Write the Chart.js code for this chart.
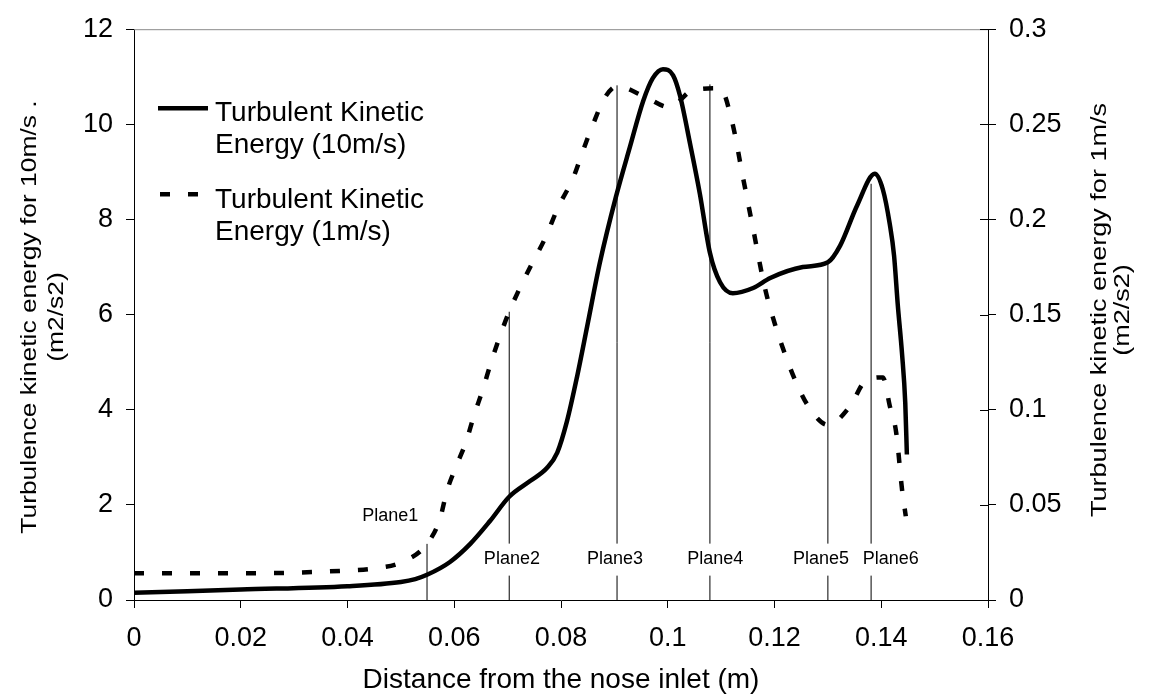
<!DOCTYPE html>
<html>
<head>
<meta charset="utf-8">
<script src="https://cdn.jsdelivr.net/npm/chart.js@4.4.1/dist/chart.umd.min.js"></script>
<style>
  html, body { margin: 0; padding: 0; background: #fff; }
  #wrap { width: 1150px; height: 697px; }
</style>
</head>
<body>
<div id="wrap"><canvas id="tke" width="1150" height="697"></canvas></div>
<script>
// Turbulent kinetic energy at 10 m/s (left axis)
const fastX = [0, 0.02, 0.04, 0.05, 0.0527, 0.0549, 0.0592, 0.063, 0.0667, 0.0703, 0.0742, 0.0774,
  0.0793, 0.0811, 0.083, 0.0849, 0.0873, 0.0903, 0.0929, 0.0954, 0.0972, 0.0991, 0.101, 0.1023,
  0.1042, 0.106, 0.1079, 0.1098, 0.1122, 0.116, 0.1192, 0.1253, 0.13, 0.1323, 0.1355, 0.1388,
  0.1403, 0.1416, 0.1424, 0.1431, 0.1439, 0.1445, 0.1448];
const fastTke = [0.15, 0.22, 0.29, 0.38, 0.44, 0.53, 0.8, 1.18, 1.66, 2.17, 2.5, 2.78,
  3.1, 3.75, 4.69, 5.75, 7.1, 8.48, 9.52, 10.49, 10.97, 11.16, 11.03, 10.6,
  9.58, 8.55, 7.3, 6.68, 6.45, 6.56, 6.77, 7.0, 7.1, 7.45, 8.3, 8.96,
  8.63, 7.9, 7.24, 6.2, 5.17, 4.14, 3.06];

// Turbulent kinetic energy at 1 m/s (right axis)
const slowX = [0, 0.02, 0.04, 0.045, 0.05, 0.0549, 0.0573, 0.0586, 0.0603, 0.0622, 0.0637, 0.0654,
  0.0669, 0.0686, 0.0703, 0.0723, 0.0746, 0.077, 0.0794, 0.0823, 0.0841, 0.086, 0.0882, 0.0905,
  0.0954, 0.1004, 0.1047, 0.1098, 0.112, 0.1141, 0.116, 0.1182, 0.1203, 0.122, 0.1238, 0.1263,
  0.13, 0.1342, 0.137, 0.1403, 0.1416, 0.1428, 0.1439, 0.1446];
const slowTke = [0.014, 0.014, 0.0155, 0.0166, 0.0197, 0.0295, 0.0424, 0.057, 0.070, 0.083, 0.097, 0.111,
  0.125, 0.139, 0.1516, 0.164, 0.177, 0.190, 0.206, 0.222, 0.236, 0.250, 0.264, 0.270,
  0.265, 0.259, 0.268, 0.269, 0.252, 0.222, 0.195, 0.164, 0.143, 0.129, 0.116, 0.102,
  0.092, 0.102, 0.115, 0.117, 0.102, 0.088, 0.058, 0.044];

// measurement planes: position and height of the marker line (left axis units)
const planeNames = ['Plane1', 'Plane2', 'Plane3', 'Plane4', 'Plane5', 'Plane6'];
const planeX = [0.0549, 0.0703, 0.0905, 0.1079, 0.13, 0.1381];
const planeTop = [1.18, 6.06, 10.82, 10.84, 7.1, 8.75];

const legendNames = [['Turbulent Kinetic', 'Energy (10m/s)'], ['Turbulent Kinetic', 'Energy (1m/s)']];
const xTitle = 'Distance from the nose inlet (m)';
const leftTitle = ['Turbulence kinetic energy for 10m/s .', '(m2/s2)'];
const rightTitle = ['Turbulence kinetic energy for 1m/s', '(m2/s2)'];

const FONT = "'Liberation Sans', Arial, sans-serif";
const fmt = v => String(Math.round(v * 1000) / 1000);

// label anchors for the plane names (data units)
const labelAt = [[0.048, 1.76], [0.0708, 0.87], [0.0901, 0.87], [0.1089, 0.87], [0.1287, 0.87], [0.1418, 0.87]];

function rotatedTitle(ctx, lines, x0, step, cy, size, stretch) {
  ctx.save();
  ctx.font = size + 'px ' + FONT;
  ctx.textAlign = 'center';
  ctx.textBaseline = 'middle';
  ctx.fillStyle = '#000';
  lines.forEach((t, i) => {
    ctx.save();
    ctx.translate(x0 + i * step, cy);
    ctx.rotate(-Math.PI / 2);
    ctx.scale(stretch, 1);
    ctx.fillText(t, 0, 0);
    ctx.restore();
  });
  ctx.restore();
}

const overlay = {
  id: 'overlay',
  afterDatasetsDraw(chart) {
    const ctx = chart.ctx;
    const area = chart.chartArea;
    const xs = chart.scales.x, ys = chart.scales.y, y1 = chart.scales.y1;
    ctx.save();

    // frame top line
    ctx.strokeStyle = '#8a8a8a';
    ctx.lineWidth = 1;
    ctx.beginPath();
    ctx.moveTo(area.left, area.top + 0.5);
    ctx.lineTo(area.right, area.top + 0.5);
    ctx.stroke();

    // right axis ticks cross the axis
    ctx.strokeStyle = '#000';
    y1.ticks.forEach(t => {
      const py = Math.round(y1.getPixelForValue(t.value)) + 0.5;
      ctx.beginPath();
      ctx.moveTo(area.right - 8, py);
      ctx.lineTo(area.right, py);
      ctx.stroke();
    });

    // plane names
    ctx.font = '18px ' + FONT;
    ctx.textAlign = 'center';
    ctx.textBaseline = 'middle';
    planeNames.forEach((name, i) => {
      const px = xs.getPixelForValue(labelAt[i][0]);
      const py = ys.getPixelForValue(labelAt[i][1]);
      const w = ctx.measureText(name).width;
      if (i > 0) {
        ctx.fillStyle = '#fff';
        ctx.fillRect(px - w / 2 - 2, py - 15, w + 4, 32);
      }
      ctx.fillStyle = '#000';
      ctx.fillText(name, px, py);
    });

    // legend
    const lx = area.left + 24, ly = area.top + 79;
    ctx.lineWidth = 4.5;
    ctx.strokeStyle = '#000';
    ctx.beginPath();
    ctx.moveTo(lx, ly);
    ctx.lineTo(lx + 50, ly);
    ctx.stroke();
    ctx.setLineDash([10, 18]);
    ctx.beginPath();
    ctx.moveTo(lx + 2, ly + 86);
    ctx.lineTo(lx + 50, ly + 86);
    ctx.stroke();
    ctx.setLineDash([]);
    ctx.font = '28px ' + FONT;
    ctx.textAlign = 'left';
    ctx.textBaseline = 'alphabetic';
    ctx.fillStyle = '#000';
    const base = [ly + 13, ly + 45, ly + 100, ly + 132];
    ctx.fillText(legendNames[0][0], lx + 57, base[0]);
    ctx.fillText(legendNames[0][1], lx + 57, base[1]);
    ctx.fillText(legendNames[1][0], lx + 57, base[2]);
    ctx.fillText(legendNames[1][1], lx + 57, base[3]);
    ctx.restore();

    // axis titles on the sides
    rotatedTitle(ctx, leftTitle, 30, 27, 317, 22, 1.2);
    rotatedTitle(ctx, rightTitle, 1100, 23, 310, 22, 1.23);
  }
};

const planeSets = planeX.map((x, i) => ({
  label: planeNames[i],
  data: [{ x: x, y: 0 }, { x: x, y: planeTop[i] }],
  yAxisID: 'y',
  borderColor: '#000',
  borderWidth: 1,
  pointRadius: 0,
  tension: 0
}));

new Chart(document.getElementById('tke'), {
  type: 'line',
  data: {
    datasets: [
      {
        label: 'Turbulent Kinetic Energy (10m/s)',
        data: fastX.map((x, i) => ({ x: x, y: fastTke[i] })),
        yAxisID: 'y',
        borderColor: '#000',
        borderWidth: 4.5,
        pointRadius: 0,
        cubicInterpolationMode: 'monotone'
      },
      {
        label: 'Turbulent Kinetic Energy (1m/s)',
        data: slowX.map((x, i) => ({ x: x, y: slowTke[i] })),
        yAxisID: 'y1',
        borderColor: '#000',
        borderWidth: 4.5,
        borderDash: [10, 18],
        pointRadius: 0,
        cubicInterpolationMode: 'monotone'
      },
      ...planeSets
    ]
  },
  options: {
    responsive: false,
    animation: false,
    layout: { padding: { top: 21, left: 0, right: 0, bottom: 0 } },
    plugins: { legend: { display: false }, tooltip: { enabled: false } },
    scales: {
      x: {
        type: 'linear', min: 0, max: 0.16,
        ticks: { stepSize: 0.02, color: '#000', font: { size: 27, family: FONT }, padding: 14,
          maxRotation: 0, autoSkip: false, callback: v => fmt(v) },
        grid: { drawOnChartArea: false, tickLength: 8, color: '#000' },
        border: { color: '#000' },
        title: { display: true, text: xTitle, color: '#000', font: { size: 28, family: FONT },
          padding: { top: 0, bottom: 0 } },
        afterFit(s) { s.height = 97; }
      },
      y: {
        position: 'left', min: 0, max: 12,
        ticks: { stepSize: 2, color: '#000', font: { size: 27, family: FONT }, padding: 13 },
        grid: { drawOnChartArea: false, tickLength: 8, color: '#000' },
        border: { color: '#000' },
        afterFit(s) { s.width = 134; }
      },
      y1: {
        position: 'right', min: 0, max: 0.3,
        ticks: { stepSize: 0.05, color: '#000', font: { size: 27, family: FONT }, padding: 13,
          callback: v => fmt(v) },
        grid: { drawOnChartArea: false, tickLength: 8, color: '#000' },
        border: { color: '#000' },
        afterFit(s) { s.width = 162; }
      }
    }
  },
  plugins: [overlay]
});
</script>
</body>
</html>
